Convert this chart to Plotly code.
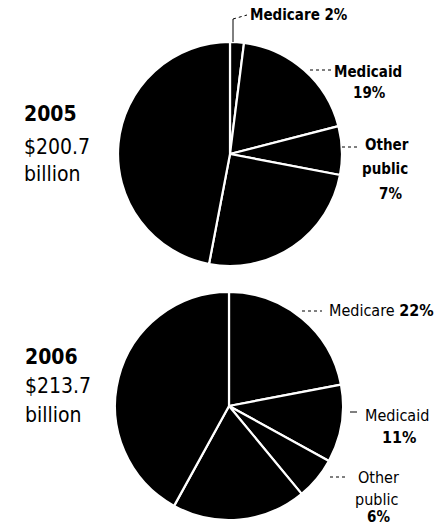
import plotly.graph_objects as go

# ---- data ----
years = ["2005", "2006"]
totals = ["$200.7", "$213.7"]
payers = ["Medicare", "Medicaid", "Other public", "Out of pocket", "Private insurance"]
shares_2005 = [2, 19, 7, 25, 47]
shares_2006 = [22, 11, 6, 19, 42]
shares = [shares_2005, shares_2006]

W, H = 436, 527
FONT = "DejaVu Sans Condensed, Liberation Sans Narrow, Arial Narrow, sans-serif"


def px(x, y):
    return x / W, 1 - y / H


fig = go.Figure()

# pie geometry (pixels): centre x, centre y, radius
pie_geo = [(230, 154, 112), (229, 406, 114)]
for vals, (cx, cy, r), yr in zip(shares, pie_geo, years):
    fig.add_trace(go.Pie(
        labels=payers, values=vals, sort=False, direction="clockwise",
        rotation=0, textinfo="none", hoverinfo="label+percent",
        marker=dict(colors=["#000000"] * len(payers), line=dict(color="white", width=2.2)),
        domain=dict(x=[(cx - r) / W, (cx + r) / W], y=[1 - (cy + r) / H, 1 - (cy - r) / H]),
        showlegend=False, name=yr,
    ))

ann = []


def text(x, y, s, size, anchor="left", bold=False):
    xx, yy = px(x, y)
    ann.append(dict(x=xx, y=yy, xref="paper", yref="paper", text=(f"<b>{s}</b>" if bold else s),
                    showarrow=False, xanchor=anchor, yanchor="middle",
                    font=dict(family=FONT, size=size, color="black")))


# left titles
left_pos = [(22, [114, 147, 174]), (23, [357, 386, 415])]
for (lx, ys), yr, tot in zip(left_pos, years, totals):
    text(lx, ys[0], yr, 21, bold=True)
    text(lx, ys[1], tot, 21)
    text(lx, ys[2], "billion", 21)

# 2005 labels (bolder in print)
s = shares_2005
text(248, 15, f"{payers[0]} <b>{s[0]}%</b>", 15, bold=True)
text(368, 72, payers[1], 15, anchor="center", bold=True)
text(369, 93, f"{s[1]}%", 15, anchor="center", bold=True)
text(387, 145, "Other", 15, anchor="center", bold=True)
text(385, 169, "public", 15, anchor="center", bold=True)
text(390, 194, f"{s[2]}%", 15, anchor="center", bold=True)

# 2006 labels
s = shares_2006
text(327, 310, f"{payers[0]} <b>{s[0]}%</b>", 16)
text(397, 415, payers[1], 16, anchor="center")
text(399, 437, f"<b>{s[1]}%</b>", 16, anchor="center")
text(378, 477, "Other", 16, anchor="center")
text(376, 499, "public", 16, anchor="center")
text(378, 517, f"<b>{s[2]}%</b>", 15, anchor="center")

shapes = []


def seg(x0, y0, x1, y1, dash="dot"):
    a, b = px(x0, y0)
    c, d = px(x1, y1)
    shapes.append(dict(type="line", xref="paper", yref="paper", x0=a, y0=b, x1=c, y1=d,
                       line=dict(color="black", width=1, dash=dash)))


seg(233, 42, 233, 19, "solid")
seg(233, 19, 247, 15)
seg(310, 70, 332, 70)
seg(342, 147, 358, 147)
seg(302, 311, 322, 311)
seg(350, 412, 357, 412, "solid")
seg(330, 477, 345, 477)

fig.update_layout(
    width=W, height=H, margin=dict(l=0, r=0, t=0, b=0),
    paper_bgcolor="white", plot_bgcolor="white",
    annotations=ann, shapes=shapes,
)

fig.write_html("out.html")
